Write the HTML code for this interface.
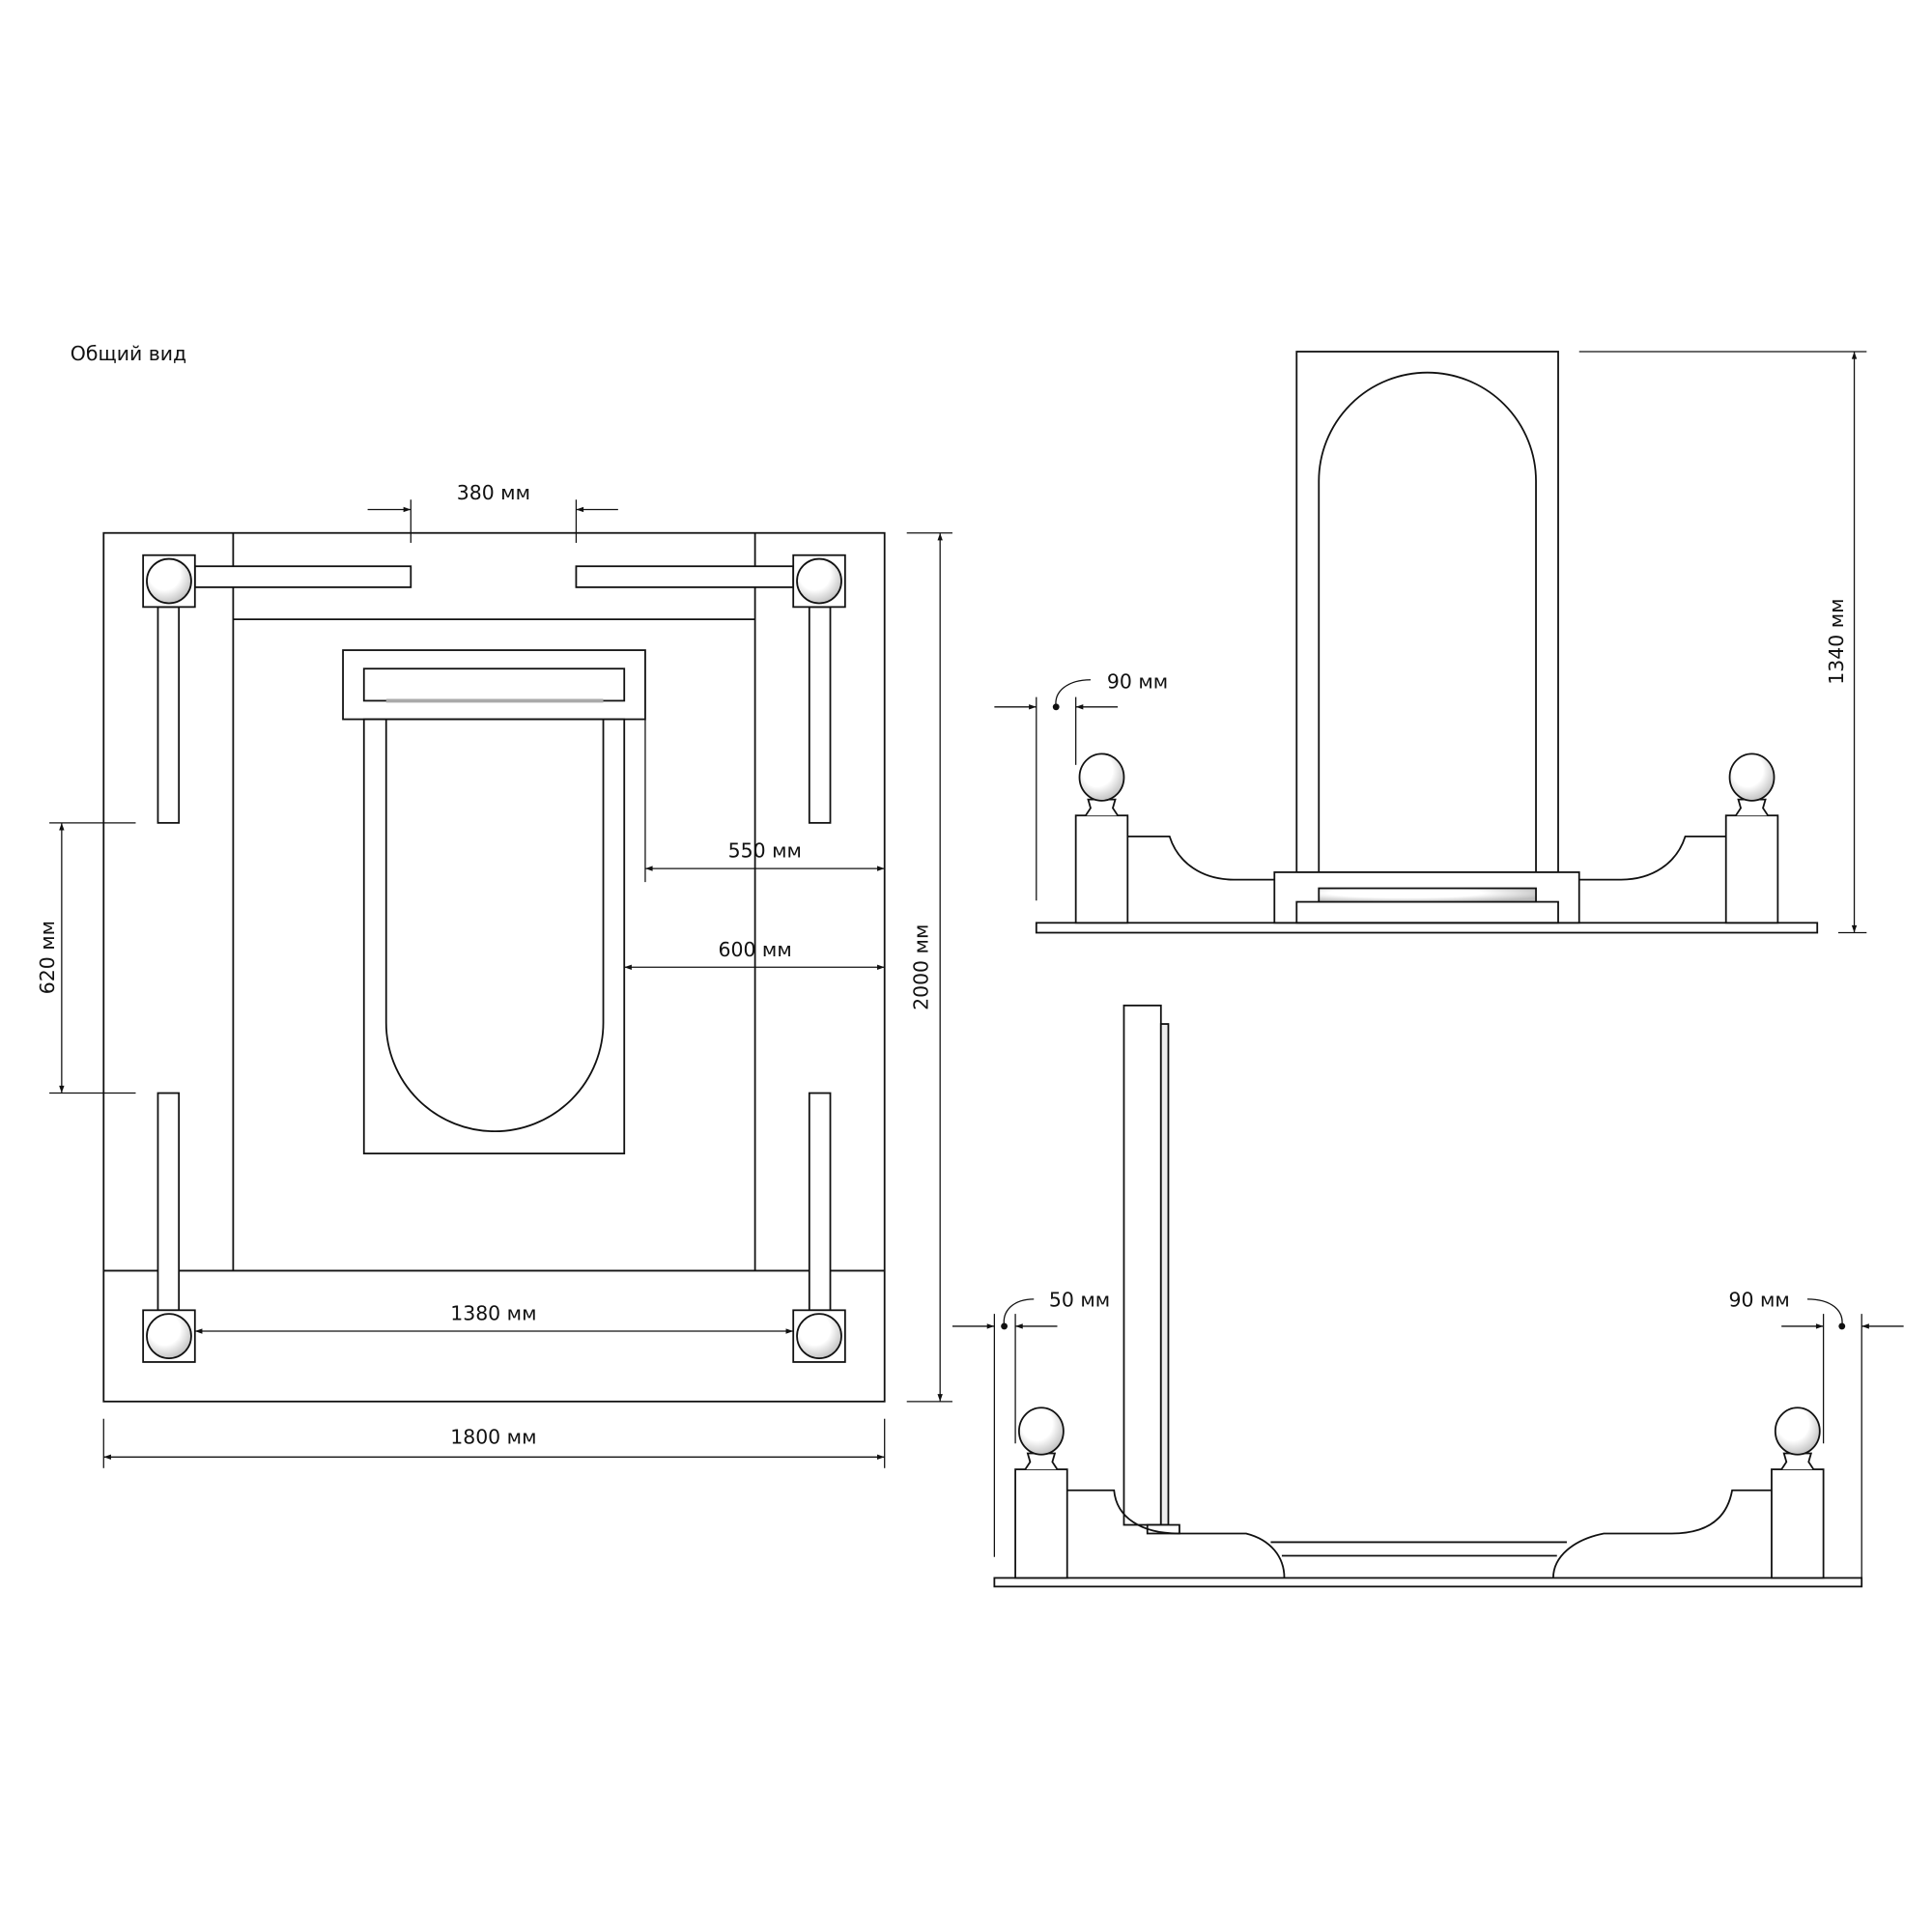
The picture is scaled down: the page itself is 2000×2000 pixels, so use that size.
<!DOCTYPE html>
<html><head><meta charset="utf-8"><style>
html,body{margin:0;padding:0;background:#fff;}
svg{display:block}
text{font-family:"DejaVu Sans","Liberation Sans",sans-serif;font-size:16px;fill:#111}
</style></head><body>
<svg width="2000" height="2000" viewBox="0 0 1566 1566" xmlns="http://www.w3.org/2000/svg">
<defs>
<marker id="a" viewBox="0 0 10 10" refX="10" refY="5" markerWidth="9" markerHeight="6" orient="auto-start-reverse" markerUnits="userSpaceOnUse"><path d="M0,1.5 L10,5 L0,8.5 z" fill="#111"/></marker>
<radialGradient id="g" cx="0.4" cy="0.35" r="0.7"><stop offset="0.5" stop-color="#fff"/><stop offset="1" stop-color="#bbb"/></radialGradient>
</defs>
<g fill="none" stroke="#111" stroke-width="1.4">
<rect x="84" y="432" width="633" height="704"/>
<line x1="189" y1="432" x2="189" y2="1030"/>
<line x1="612" y1="432" x2="612" y2="1030"/>
<line x1="84" y1="1030" x2="717" y2="1030"/>
<line x1="189" y1="502" x2="612" y2="502"/>
<rect x="158" y="459" width="175" height="17" fill="#fff"/>
<rect x="467" y="459" width="176" height="17" fill="#fff"/>
<rect x="128" y="492" width="17" height="175" fill="#fff"/>
<rect x="656" y="492" width="17" height="175" fill="#fff"/>
<rect x="128" y="886" width="17" height="176" fill="#fff"/>
<rect x="656" y="886" width="17" height="176" fill="#fff"/>
<rect x="116" y="450" width="42" height="42" fill="#fff"/>
<rect x="643" y="450" width="42" height="42" fill="#fff"/>
<rect x="116" y="1062" width="42" height="42" fill="#fff"/>
<rect x="643" y="1062" width="42" height="42" fill="#fff"/>
<circle cx="137" cy="471" r="18" fill="url(#g)"/>
<circle cx="664" cy="471" r="18" fill="url(#g)"/>
<circle cx="137" cy="1083" r="18" fill="url(#g)"/>
<circle cx="664" cy="1083" r="18" fill="url(#g)"/>
<rect x="278" y="527" width="245" height="56"/>
<rect x="295" y="542" width="211" height="26"/>
<line x1="313" y1="568" x2="489" y2="568" stroke="#aaa" stroke-width="3"/>
<rect x="295" y="583" width="211" height="352"/>
<path d="M313,583 V829 A88,88 0 0 0 489,829 V583"/>
<line x1="333" y1="405" x2="333" y2="440" stroke-width="1"/>
<line x1="467" y1="405" x2="467" y2="440" stroke-width="1"/>
<line x1="298" y1="413" x2="333" y2="413" marker-end="url(#a)" stroke-width="1"/>
<line x1="501" y1="413" x2="467" y2="413" marker-end="url(#a)" stroke-width="1"/>
<line x1="523" y1="583" x2="523" y2="715" stroke-width="1"/>
<line x1="523" y1="704" x2="717" y2="704" marker-start="url(#a)" marker-end="url(#a)" stroke-width="1"/>
<line x1="506" y1="784" x2="717" y2="784" marker-start="url(#a)" marker-end="url(#a)" stroke-width="1"/>
<line x1="158" y1="1079" x2="643" y2="1079" marker-start="url(#a)" marker-end="url(#a)" stroke-width="1"/>
<line x1="84" y1="1150" x2="84" y2="1190" stroke-width="1"/>
<line x1="717" y1="1150" x2="717" y2="1190" stroke-width="1"/>
<line x1="84" y1="1181" x2="717" y2="1181" marker-start="url(#a)" marker-end="url(#a)" stroke-width="1"/>
<line x1="735" y1="432" x2="772" y2="432" stroke-width="1"/>
<line x1="735" y1="1136" x2="772" y2="1136" stroke-width="1"/>
<line x1="762" y1="432" x2="762" y2="1136" marker-start="url(#a)" marker-end="url(#a)" stroke-width="1"/>
<line x1="40" y1="667" x2="110" y2="667" stroke-width="1"/>
<line x1="40" y1="886" x2="110" y2="886" stroke-width="1"/>
<line x1="50" y1="667" x2="50" y2="886" marker-start="url(#a)" marker-end="url(#a)" stroke-width="1"/>

<rect x="840" y="748" width="633" height="8" fill="#fff"/>
<rect x="1051" y="285" width="212" height="422" fill="#fff"/>
<path d="M1069,707 V390 A88,88 0 0 1 1245,390 V707"/>
<rect x="1033" y="707" width="247" height="41" fill="#fff"/>
<rect x="1051" y="731" width="212" height="17"/>
<rect x="1069" y="720" width="176" height="11" fill="url(#g)"/>
<path d="M914,678 H948 C955,700 975,713 1000,713 H1033"/>
<path d="M1399,678 H1366 C1359,700 1339,713 1314,713 H1280"/>
<rect x="872" y="661" width="42" height="87" fill="#fff"/>
<rect x="1399" y="661" width="42" height="87" fill="#fff"/>
<path d="M880,661 L884,655 L882,648 L904,648 L902,655 L906,661" fill="#fff"/>
<path d="M1407,661 L1411,655 L1409,648 L1431,648 L1429,655 L1433,661" fill="#fff"/>
<ellipse cx="893" cy="630" rx="18" ry="19" fill="url(#g)"/>
<ellipse cx="1420" cy="630" rx="18" ry="19" fill="url(#g)"/>
<line x1="1280" y1="285" x2="1513" y2="285" stroke-width="1"/>
<line x1="1490" y1="756" x2="1513" y2="756" stroke-width="1"/>
<line x1="1503" y1="285" x2="1503" y2="756" marker-start="url(#a)" marker-end="url(#a)" stroke-width="1"/>
<line x1="840" y1="565" x2="840" y2="730" stroke-width="1"/>
<line x1="872" y1="565" x2="872" y2="620" stroke-width="1"/>
<line x1="806" y1="573" x2="840" y2="573" marker-end="url(#a)" stroke-width="1"/>
<line x1="906" y1="573" x2="872" y2="573" marker-end="url(#a)" stroke-width="1"/>
<path d="M856,573 C854,560 866,551 884,551" stroke-width="1"/>
<circle cx="856" cy="573" r="2" fill="#111"/>

<rect x="806" y="1279" width="703" height="7" fill="#fff"/>
<rect x="911" y="815" width="30" height="421" fill="#fff"/>
<rect x="941" y="830" width="6" height="406" fill="#eee"/>
<rect x="930" y="1236" width="26" height="7" fill="#fff"/>
<path d="M865,1208 H903 C905,1230 925,1243 955,1243 H1010 C1030,1248 1041,1262 1041,1279"/>
<path d="M1436,1208 H1404 C1400,1230 1385,1243 1355,1243 H1300 C1275,1248 1259,1262 1259,1279"/>
<line x1="1030" y1="1250" x2="1270" y2="1250"/>
<line x1="1039" y1="1261" x2="1262" y2="1261"/>
<rect x="823" y="1191" width="42" height="88" fill="#fff"/>
<rect x="1436" y="1191" width="42" height="88" fill="#fff"/>
<path d="M831,1191 L835,1185 L833,1178 L855,1178 L853,1185 L857,1191" fill="#fff"/>
<path d="M1444,1191 L1448,1185 L1446,1178 L1468,1178 L1466,1185 L1470,1191" fill="#fff"/>
<ellipse cx="844" cy="1160" rx="18" ry="19" fill="url(#g)"/>
<ellipse cx="1457" cy="1160" rx="18" ry="19" fill="url(#g)"/>
<line x1="806" y1="1065" x2="806" y2="1262" stroke-width="1"/>
<line x1="823" y1="1065" x2="823" y2="1170" stroke-width="1"/>
<line x1="772" y1="1075" x2="806" y2="1075" marker-end="url(#a)" stroke-width="1"/>
<line x1="857" y1="1075" x2="823" y2="1075" marker-end="url(#a)" stroke-width="1"/>
<path d="M814,1075 C812,1062 822,1053 838,1053" stroke-width="1"/>
<circle cx="814" cy="1075" r="2" fill="#111"/>
<line x1="1478" y1="1065" x2="1478" y2="1170" stroke-width="1"/>
<line x1="1509" y1="1065" x2="1509" y2="1280" stroke-width="1"/>
<line x1="1444" y1="1075" x2="1478" y2="1075" marker-end="url(#a)" stroke-width="1"/>
<line x1="1543" y1="1075" x2="1509" y2="1075" marker-end="url(#a)" stroke-width="1"/>
<path d="M1493,1075 C1495,1062 1484,1053 1465,1053" stroke-width="1"/>
<circle cx="1493" cy="1075" r="2" fill="#111"/>
</g>
<g>
<text x="57" y="292">Общий вид</text>
<text x="400" y="405" text-anchor="middle">380 мм</text>
<text x="620" y="695" text-anchor="middle">550 мм</text>
<text x="612" y="775" text-anchor="middle">600 мм</text>
<text x="400" y="1070" text-anchor="middle">1380 мм</text>
<text x="400" y="1170" text-anchor="middle">1800 мм</text>
<text transform="translate(752,784) rotate(-90)" text-anchor="middle">2000 мм</text>
<text transform="translate(44,776) rotate(-90)" text-anchor="middle">620 мм</text>
<text transform="translate(1494,520) rotate(-90)" text-anchor="middle">1340 мм</text>
<text x="922" y="558" text-anchor="middle">90 мм</text>
<text x="875" y="1059" text-anchor="middle">50 мм</text>
<text x="1426" y="1059" text-anchor="middle">90 мм</text>
</g>
</svg>
</body></html>
